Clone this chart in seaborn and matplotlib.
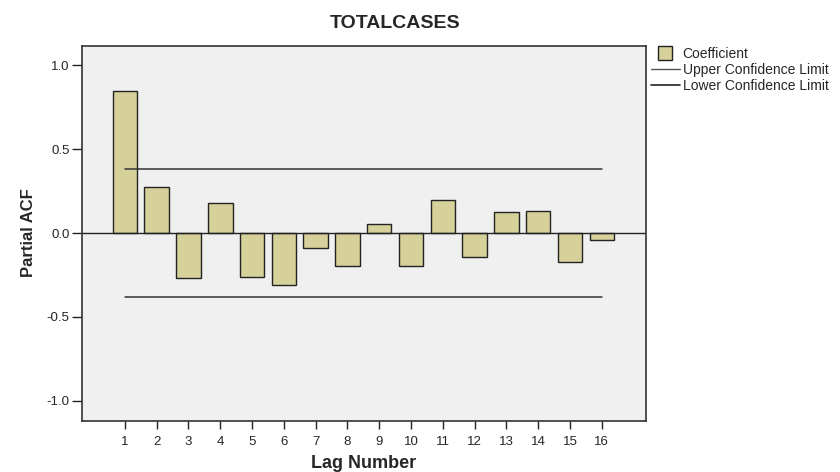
import matplotlib
matplotlib.use("Agg")
import matplotlib.pyplot as plt
from matplotlib.lines import Line2D
import pandas as pd
import seaborn as sns

# partial autocorrelation values
lags = list(range(1, 17))
pacf = [0.845, 0.272, -0.268, 0.177, -0.262, -0.307, -0.089, -0.196,
        0.054, -0.195, 0.200, -0.143, 0.125, 0.131, -0.171, -0.040]
upper_limit = 0.38
lower_limit = -0.38
yticks = [-1.0, -0.5, 0.0, 0.5, 1.0]

df = pd.DataFrame({"lag": lags, "pacf": pacf})
df["upper"] = upper_limit
df["lower"] = lower_limit

sns.set_style("ticks")
plt.rcParams["font.family"] = ["Liberation Sans", "DejaVu Sans"]

fig = plt.figure(figsize=(8.4, 4.72), dpi=100)
ax = fig.add_axes([0.0976, 0.108, 0.671, 0.7945])
ax.set_facecolor("#f0f0f0")

sns.barplot(data=df, x="lag", y="pacf", native_scale=True, width=0.77,
            color="#d6d19a", saturation=1, edgecolor="#222222", linewidth=1.0, ax=ax)
sns.lineplot(data=df, x="lag", y="upper", color="#333333", linewidth=1.1, ax=ax)
sns.lineplot(data=df, x="lag", y="lower", color="#333333", linewidth=1.1, ax=ax)
ax.axhline(0, color="#222222", linewidth=1.0)

ax.set_xlim(-0.35, 17.38)
ax.set_ylim(-1.12, 1.115)
ax.set_xticks(lags)
ax.set_xticklabels([str(l) for l in lags])
ax.set_yticks(yticks)
ax.set_yticklabels([f"{t:.1f}" for t in yticks])
ax.tick_params(axis="both", direction="out", width=1, labelsize=9.5, color="#222222")
ax.tick_params(axis="x", length=6, pad=5)
ax.tick_params(axis="y", length=7, pad=2)
for s in ax.spines.values():
    s.set_visible(True)
    s.set_color("#333333")
    s.set_linewidth(1.2)

ax.set_xlabel("")
ax.set_ylabel("")
fig.text(0.470, 0.951, "TOTALCASES", ha="center", va="center",
         fontsize=14, fontweight="bold")
fig.text(0.433, 0.019, "Lag Number", ha="center", va="center",
         fontsize=13, fontweight="bold")
fig.text(0.034, 0.507, "Partial ACF", ha="center", va="center", rotation=90,
         fontsize=12, fontweight="bold")

handles = [
    Line2D([], [], marker="s", markersize=10, markerfacecolor="#d6d19a",
           markeredgecolor="#222222", markeredgewidth=1.0, linestyle="None"),
    Line2D([], [], color="#555555", linewidth=1.0),
    Line2D([], [], color="#222222", linewidth=1.2),
]
labels = ["Coefficient", "Upper Confidence Limit", "Lower Confidence Limit"]
fig.legend(handles, labels, loc="upper left", bbox_to_anchor=(0.768, 0.912),
           frameon=False, fontsize=10, handlelength=2.1, handletextpad=0.2,
           borderaxespad=0, labelspacing=0.15)

fig.savefig("out.png", dpi=100)
